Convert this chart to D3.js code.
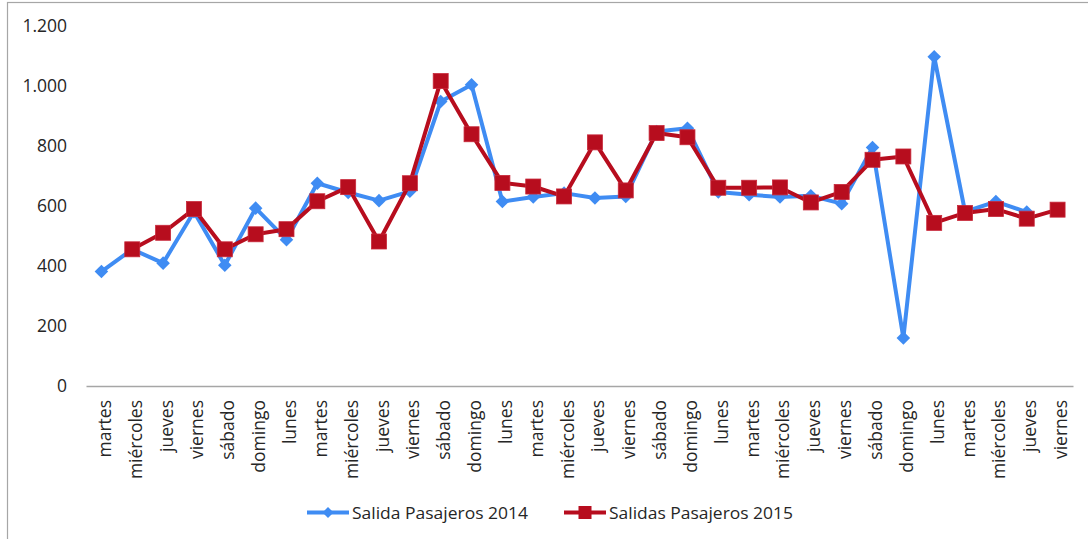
<!DOCTYPE html>
<html>
<head>
<meta charset="utf-8">
<script src="https://cdn.jsdelivr.net/npm/d3@7"></script>
<style>
  html, body { margin: 0; padding: 0; background: #fff; }
  svg { display: block; }
</style>
</head>
<body>
<svg id="chart" width="1088" height="539"></svg>
<script>
// Day labels along the x axis (32 consecutive days)
const days = ["martes","miércoles","jueves","viernes","sábado","domingo","lunes",
  "martes","miércoles","jueves","viernes","sábado","domingo","lunes",
  "martes","miércoles","jueves","viernes","sábado","domingo","lunes",
  "martes","miércoles","jueves","viernes","sábado","domingo","lunes",
  "martes","miércoles","jueves","viernes"];

// 2014 departures: from the first day through the 31st
const salidas2014 = [381, 455, 409, 580, 402, 592, 487, 675, 644, 617, 648, 947, 1003,
  614, 629, 642, 626, 631, 847, 858, 646, 637, 629, 633, 607, 794, 160, 1096, 580, 614, 579];

// 2015 departures: from the second day through the last
const salidas2015 = [455, 510, 589, 455, 505, 522, 615, 662, 481, 675, 1015, 838,
  676, 664, 631, 811, 651, 842, 828, 660, 660, 661, 611, 646, 753, 764, 543, 576, 589, 557, 587];

const yTicks = [0, 200, 400, 600, 800, 1000, 1200];
const seriesNames = ["Salida Pasajeros 2014", "Salidas Pasajeros 2015"];

const svg = d3.select("#chart");
const W = 1088, H = 539;
const margin = { left: 86, right: 15, top: 25, bottom: 153 };
const font = "'Open Sans', 'Noto Sans', sans-serif";

// outer chart frame
svg.append("rect")
  .attr("x", 7.5).attr("y", 2.5)
  .attr("width", W + 10).attr("height", H + 10)
  .attr("fill", "none").attr("stroke", "#a6a6a6").attr("stroke-width", 1.2);

const x = d3.scaleBand()
  .domain(d3.range(days.length))
  .range([margin.left, W - margin.right])
  .paddingInner(0).paddingOuter(0);

const y = d3.scaleLinear()
  .domain([0, 1200])
  .range([386, 25.5]);

const fmt = v => d3.format(",")(v).replace(/,/g, ".");

// y axis labels only (no axis line)
const yAxis = d3.axisLeft(y).tickValues(yTicks).tickFormat(fmt).tickSize(0).tickPadding(0);
const yg = svg.append("g").attr("transform", `translate(67,0)`).call(yAxis);
yg.select(".domain").remove();
yg.selectAll("text")
  .attr("font-family", font)
  .attr("font-size", 17.5)
  .attr("fill", "#262626");

// x axis line with rotated day labels
const xAxis = d3.axisBottom(x).tickFormat(i => days[i]).tickSize(0).tickPadding(0);
const xg = svg.append("g").attr("transform", `translate(0,${y(0)})`).call(xAxis);
xg.select(".domain").attr("stroke", "#a6a6a6").attr("stroke-width", 1.5);
xg.selectAll("text")
  .attr("font-family", font)
  .attr("font-size", 17.5)
  .attr("fill", "#262626")
  .attr("text-anchor", "end")
  .attr("y", 0)
  .attr("dy", null)
  .attr("transform", "translate(9.5,14) rotate(-90)");

const cx = i => x(i) + x.bandwidth() / 2;

const blue = "#3f8cf3";
const red = "#b70d1e";

const data2014 = salidas2014.map((v, i) => ({ i, v }));
const data2015 = salidas2015.map((v, k) => ({ i: k + 1, v }));

const line = d3.line().x(d => cx(d.i)).y(d => y(d.v));

svg.append("path").datum(data2014)
  .attr("d", line).attr("fill", "none")
  .attr("stroke", blue).attr("stroke-width", 4).attr("stroke-linejoin", "round");

const diamond = d3.symbol().type(d3.symbolSquare).size(92);
svg.append("g").selectAll("path").data(data2014).join("path")
  .attr("d", diamond)
  .attr("transform", d => `translate(${cx(d.i)},${y(d.v)}) rotate(45)`)
  .attr("fill", blue);

svg.append("path").datum(data2015)
  .attr("d", line).attr("fill", "none")
  .attr("stroke", red).attr("stroke-width", 4).attr("stroke-linejoin", "round");

svg.append("g").selectAll("rect").data(data2015).join("rect")
  .attr("x", d => cx(d.i) - 7.5).attr("y", d => y(d.v) - 7.5)
  .attr("width", 15).attr("height", 15)
  .attr("fill", red).attr("stroke", "#c8283a").attr("stroke-width", 0.8);

// legend
const legend = svg.append("g").attr("font-family", font)
  .attr("font-size", 16.5).attr("fill", "#262626");
const legendItems = [
  { name: seriesNames[0], color: blue, x0: 307, shape: "diamond", tx: 352, tw: 176 },
  { name: seriesNames[1], color: red, x0: 564, shape: "square", tx: 609, tw: 184 }
];
const ly = 512.5;
legendItems.forEach(it => {
  legend.append("line")
    .attr("x1", it.x0).attr("x2", it.x0 + 42)
    .attr("y1", ly).attr("y2", ly)
    .attr("stroke", it.color).attr("stroke-width", 4);
  if (it.shape === "diamond") {
    legend.append("path")
      .attr("d", d3.symbol().type(d3.symbolSquare).size(60)())
      .attr("transform", `translate(${it.x0 + 21},${ly}) rotate(45)`)
      .attr("fill", it.color);
  } else {
    legend.append("rect")
      .attr("x", it.x0 + 21 - 6.5).attr("y", ly - 6.5)
      .attr("width", 13).attr("height", 13).attr("fill", it.color);
  }
  legend.append("text")
    .attr("x", it.tx).attr("y", ly + 6)
    .attr("textLength", it.tw).attr("lengthAdjust", "spacingAndGlyphs")
    .text(it.name);
});
</script>
</body>
</html>
